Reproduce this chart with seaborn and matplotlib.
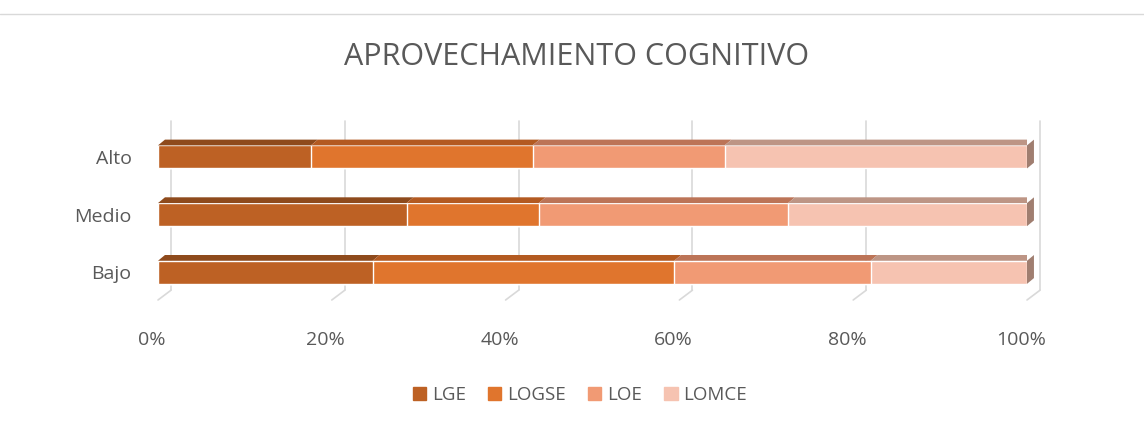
import numpy as np
import pandas as pd
import matplotlib.pyplot as plt
import matplotlib.patches as mpatches
import matplotlib.transforms as mtransforms
from matplotlib.lines import Line2D
import seaborn as sns

# data (percent of each group)
niveles = ['Alto', 'Medio', 'Bajo']
leyes = ['LGE', 'LOGSE', 'LOE', 'LOMCE']
lge = [17.6, 28.6, 24.7]
logse = [25.5, 15.2, 34.7]
loe = [22.1, 28.7, 22.6]
lomce = [34.8, 27.5, 18.0]

colores = ['#BD6124', '#E0752D', '#F19A74', '#F6C3B1']
colores_top = ['#8E4A1C', '#B35A21', '#BC7457', '#BD9585']
gris = '#595959'

df = pd.DataFrame({'nivel': niveles, 'LGE': lge, 'LOGSE': logse, 'LOE': loe, 'LOMCE': lomce})
cum = df[leyes].cumsum(axis=1)

sns.set_style('white')
plt.rcParams['font.family'] = ['Open Sans', 'DejaVu Sans']

fig = plt.figure(figsize=(11.44, 4.25), dpi=100)
ax = fig.add_axes([158 / 1144, 1 - 300 / 425, 869 / 1144, 180 / 425])

# stacked bars, largest cumulative first (Alto at top, y grows downward)
for i in range(len(leyes) - 1, -1, -1):
    sns.barplot(x=cum[leyes[i]], y=df['nivel'], order=niveles, orient='h',
                color=colores[i], width=0.4, ax=ax, zorder=2, saturation=1)

ybot, ytop = 2.48, -0.64
ax.set_xlim(0, 100)
ax.set_ylim(ybot, ytop)

# back gridlines with small 3D floor slant
dxg, dyg = 1.5, 0.17
for v in range(0, 101, 20):
    ax.plot([v + dxg, v + dxg], [ybot - dyg, ytop + 0.02], color='#D9D9D9', lw=1.2, zorder=0, clip_on=False)
    ax.plot([v, v + dxg], [ybot, ybot - dyg], color='#D9D9D9', lw=1.2, zorder=0, clip_on=False)

# pseudo 3D top faces and right end
dx, dy, h = 0.8, 0.1, 0.4
for r, nivel in enumerate(niveles):
    top = r - h / 2
    left = 0
    for i, ley in enumerate(leyes):
        right = cum.loc[r, ley]
        ax.add_patch(mpatches.Polygon([(left, top), (right, top), (right + dx, top - dy), (left + dx, top - dy)],
                                      closed=True, color=colores_top[i], lw=0, zorder=3))
        left = right
    ax.add_patch(mpatches.Polygon([(left, top), (left, top + h), (left + dx, top + h - dy), (left + dx, top - dy)],
                                  closed=True, color='#A07E70', lw=0, zorder=3, clip_on=False))

ax.set_xticks(range(0, 101, 20))
ax.set_xticklabels([f'{v}%' for v in range(0, 101, 20)])
ax.tick_params(axis='x', length=0, pad=22, labelsize=14, labelcolor=gris)
ax.tick_params(axis='y', length=0, pad=19, labelsize=14, labelcolor=gris)
shift = mtransforms.ScaledTranslation(-6 / 100, 0, fig.dpi_scale_trans)
for lab in ax.get_xticklabels():
    lab.set_transform(lab.get_transform() + shift)
ax.set_xlabel('')
ax.set_ylabel('')
for s in ax.spines.values():
    s.set_visible(False)

handles = [mpatches.Patch(color=c, label=l) for c, l in zip(colores, leyes)]
fig.legend(handles=handles, loc='center', bbox_to_anchor=(580 / 1144, 1 - 395 / 425), ncol=4,
           frameon=False, fontsize=13.5, handlelength=0.7, handleheight=0.7, handletextpad=0.3,
           columnspacing=1.2, labelcolor=gris)

fig.text(577 / 1144, 1 - 57 / 425, 'APROVECHAMIENTO COGNITIVO', ha='center', va='center',
         fontsize=22, color=gris)
fig.add_artist(Line2D([0, 1], [1 - 14 / 425, 1 - 14 / 425], color='#D9D9D9', lw=1))

fig.savefig('out.png', dpi=100)
